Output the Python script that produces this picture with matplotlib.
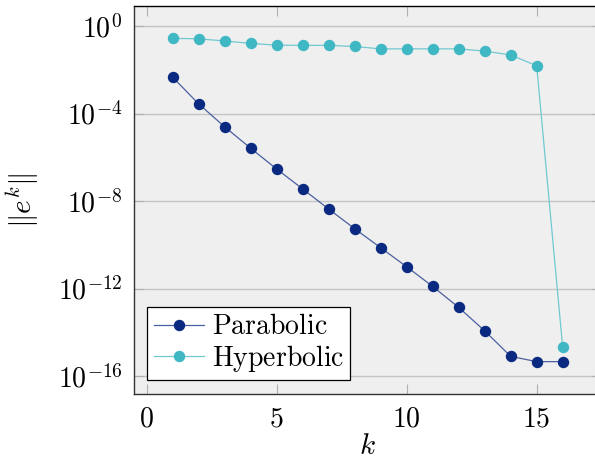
import matplotlib
matplotlib.use("Agg")
import matplotlib.pyplot as plt
import numpy as np

plt.rcParams['mathtext.fontset'] = 'cm'
plt.rcParams['font.family'] = 'serif'
plt.rcParams['font.serif'] = ['DejaVu Serif']

k = np.arange(1, 17)
# log10 of the error norms
parabolic_log = [-2.33, -3.55, -4.60, -5.58, -6.53, -7.44, -8.36, -9.26,
                 -10.13, -11.00, -11.90, -12.86, -13.93, -15.10, -15.34, -15.34]
hyperbolic_log = [-0.56, -0.58, -0.68, -0.79, -0.87, -0.88, -0.88, -0.93,
                  -1.04, -1.04, -1.04, -1.04, -1.14, -1.32, -1.81, -14.69]
parabolic = 10.0 ** np.array(parabolic_log)
hyperbolic = 10.0 ** np.array(hyperbolic_log)

fig = plt.figure(figsize=(5.95, 4.63), dpi=100)
ax = fig.add_axes([133.5/595, 1 - 394/463, (601.7 - 133.5)/595, (394 - 6)/463])
ax.set_facecolor('#efefef')

ax.plot(k, parabolic, '-o', color='#4a5fa0', lw=0.9, ms=7.2,
        mfc='#0a2a82', mec='#0a2a82', label=r'$\mathrm{Parabolic}$')
ax.plot(k, hyperbolic, '-o', color='#70c8d0', lw=0.9, ms=7.2,
        mfc='#40b8c4', mec='#40b8c4', label=r'$\mathrm{Hyperbolic}$')

ax.set_yscale('log')
ax.set_xlim(-0.5, 17.5)
ax.set_ylim(10**-16.82, 10**0.92)
ax.set_xticks([0, 5, 10, 15])
ax.set_xticklabels([r'$0$', r'$5$', r'$10$', r'$15$'])
yt = [1e0, 1e-4, 1e-8, 1e-12, 1e-16]
ax.set_yticks(yt)
ax.set_yticklabels([r'$10^{0}$', r'$10^{-4}$', r'$10^{-8}$', r'$10^{-12}$', r'$10^{-16}$'])
ax.minorticks_off()
ax.grid(axis='y', color='#c4c4c4', lw=1.0)
ax.set_axisbelow(True)
ax.tick_params(direction='in', length=7, color='#b0b0b0', labelsize=20,
               top=True, right=True, pad=8)

for s in ax.spines.values():
    s.set_color('#333333')
    s.set_linewidth(1.0)
ax.spines['top'].set_color('black')

ax.set_xlabel(r'$k$', fontsize=21, labelpad=0)
ax.set_ylabel(r'$\Vert e^k\Vert$', fontsize=21)
ax.yaxis.set_label_coords(-0.198, 0.5)

leg = ax.legend(loc='lower left', fontsize=20, frameon=True, fancybox=False,
                edgecolor='black', framealpha=1, borderpad=0.22,
                handlelength=1.8, handletextpad=0.3, labelspacing=0.1,
                borderaxespad=0.5)
leg.get_frame().set_linewidth(0.9)

fig.savefig('out.png', dpi=100)
